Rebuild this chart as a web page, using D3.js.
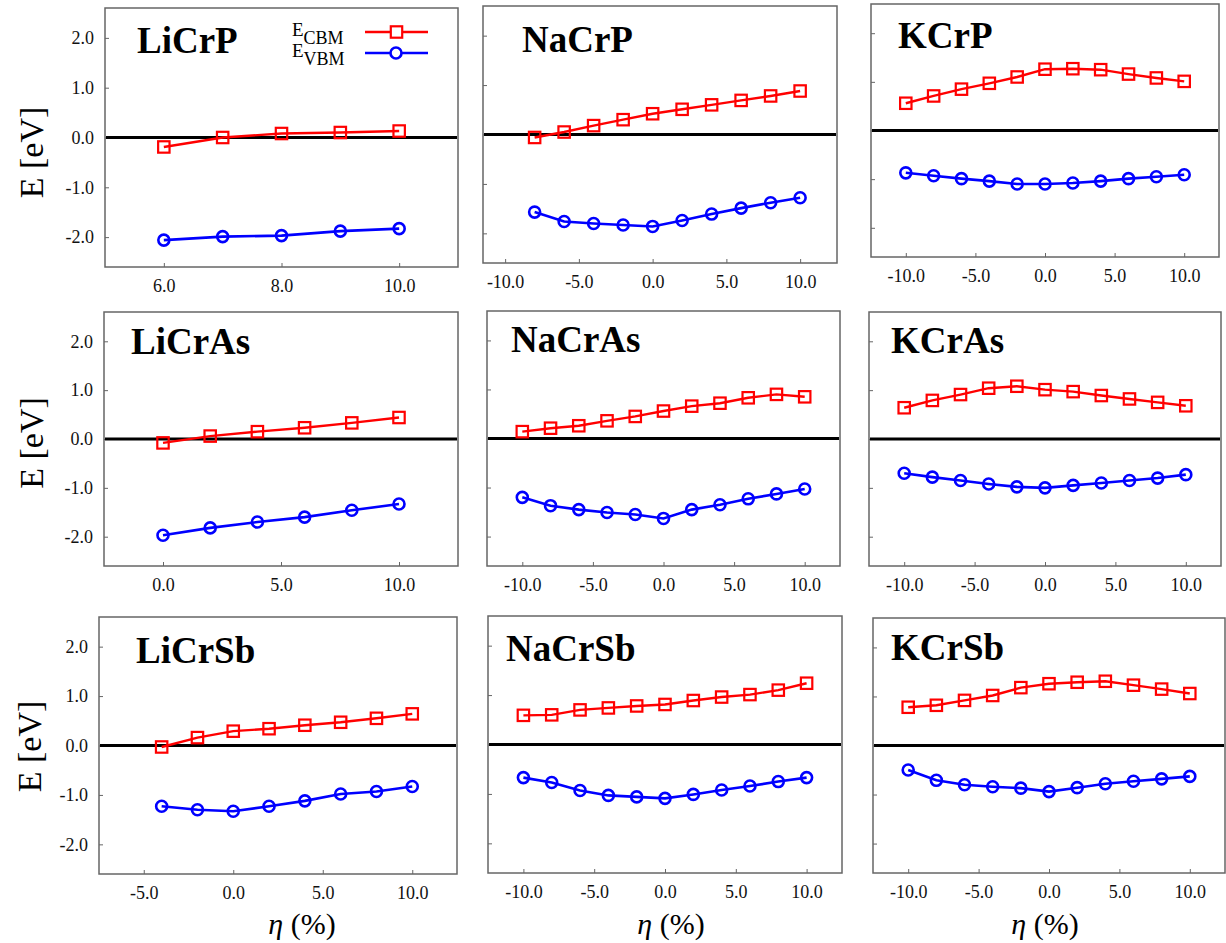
<!DOCTYPE html>
<html>
<head>
<meta charset="utf-8">
<script src="https://cdn.jsdelivr.net/npm/d3@7"></script>
<style>
  body { margin: 0; background: #fff; }
  svg { display: block; }
</style>
</head>
<body>
<div id="chart"></div>
<script>
// strain eta (%) and band edges E (eV)
const etaLiCrP = [6, 7, 8, 9, 10]
const cbmLiCrP = [-0.19, 0.0, 0.08, 0.10, 0.13]
const vbmLiCrP = [-2.06, -1.99, -1.97, -1.88, -1.83]

const etaNaCrP = [-8, -6, -4, -2, 0, 2, 4, 6, 8, 10]
const cbmNaCrP = [-0.06, 0.05, 0.18, 0.30, 0.42, 0.51, 0.60, 0.69, 0.78, 0.88]
const vbmNaCrP = [-1.57, -1.76, -1.80, -1.83, -1.86, -1.74, -1.61, -1.49, -1.38, -1.28]

const etaKCrP = [-10, -8, -6, -4, -2, 0, 2, 4, 6, 8, 10]
const cbmKCrP = [0.56, 0.71, 0.85, 0.97, 1.10, 1.26, 1.27, 1.25, 1.16, 1.08, 1.01]
const vbmKCrP = [-0.87, -0.93, -0.99, -1.04, -1.10, -1.10, -1.08, -1.04, -0.99, -0.95, -0.91]

const etaLiCrAs = [0, 2, 4, 6, 8, 10]
const cbmLiCrAs = [-0.08, 0.06, 0.15, 0.23, 0.33, 0.44]
const vbmLiCrAs = [-1.97, -1.82, -1.70, -1.60, -1.46, -1.33]

const etaNaCrAs = [-10, -8, -6, -4, -2, 0, 2, 4, 6, 8, 10]
const cbmNaCrAs = [0.14, 0.21, 0.26, 0.36, 0.45, 0.56, 0.66, 0.72, 0.83, 0.90, 0.85]
const vbmNaCrAs = [-1.20, -1.37, -1.45, -1.51, -1.55, -1.63, -1.45, -1.35, -1.23, -1.13, -1.03]

const etaKCrAs = [-10, -8, -6, -4, -2, 0, 2, 4, 6, 8, 10]
const cbmKCrAs = [0.64, 0.79, 0.91, 1.04, 1.08, 1.01, 0.97, 0.89, 0.82, 0.75, 0.68]
const vbmKCrAs = [-0.70, -0.78, -0.85, -0.92, -0.98, -1.00, -0.95, -0.90, -0.85, -0.80, -0.73]

const etaLiCrSb = [-4, -2, 0, 2, 4, 6, 8, 10]
const cbmLiCrSb = [-0.03, 0.16, 0.29, 0.34, 0.41, 0.47, 0.55, 0.64]
const vbmLiCrSb = [-1.23, -1.30, -1.33, -1.23, -1.12, -0.98, -0.93, -0.83]

const etaNaCrSb = [-10, -8, -6, -4, -2, 0, 2, 4, 6, 8, 10]
const cbmNaCrSb = [0.59, 0.60, 0.70, 0.74, 0.78, 0.81, 0.89, 0.96, 1.01, 1.10, 1.24]
const vbmNaCrSb = [-0.67, -0.77, -0.93, -1.03, -1.06, -1.09, -1.01, -0.92, -0.84, -0.75, -0.67]

const etaKCrSb = [-10, -8, -6, -4, -2, 0, 2, 4, 6, 8, 10]
const cbmKCrSb = [0.78, 0.82, 0.92, 1.02, 1.18, 1.26, 1.29, 1.31, 1.23, 1.15, 1.06]
const vbmKCrSb = [-0.50, -0.71, -0.80, -0.84, -0.87, -0.94, -0.86, -0.78, -0.73, -0.68, -0.63]

// axis ticks
const yTicks = [-2, -1, 0, 1, 2]
const xTicksLiCrP = [6, 8, 10]
const xTicksLiCrAs = [0, 5, 10]
const xTicksLiCrSb = [-5, 0, 5, 10]
const xTicksFull = [-10, -5, 0, 5, 10]

const W = 1226, H = 943
const serif = '"Liberation Serif", "Times New Roman", "DejaVu Serif", serif'
const red = '#ff0000', blue = '#0000ff'
const fmt = d => d.toFixed(1)

// panel layout: box = [left, top, right, bottom], title offset from top-left
const panels = [
  {name: 'LiCrP',  eta: etaLiCrP,  cbm: cbmLiCrP,  vbm: vbmLiCrP,  xd: [5, 11],       xt: xTicksLiCrP,  box: [105, 8, 458, 267],   tp: [32, 45]},
  {name: 'NaCrP',  eta: etaNaCrP,  cbm: cbmNaCrP,  vbm: vbmNaCrP,  xd: [-11.5, 12.5], xt: xTicksFull,   box: [483, 6, 837, 263],   tp: [39, 46]},
  {name: 'KCrP',   eta: etaKCrP,   cbm: cbmKCrP,   vbm: vbmKCrP,   xd: [-12.5, 12.5], xt: xTicksFull,   box: [871, 4, 1219, 257],  tp: [27, 44]},
  {name: 'LiCrAs', eta: etaLiCrAs, cbm: cbmLiCrAs, vbm: vbmLiCrAs, xd: [-2.5, 12.5],  xt: xTicksLiCrAs, box: [104, 312, 458, 566], tp: [27, 42]},
  {name: 'NaCrAs', eta: etaNaCrAs, cbm: cbmNaCrAs, vbm: vbmNaCrAs, xd: [-12.5, 12.5], xt: xTicksFull,   box: [487, 311, 840, 566], tp: [24, 41]},
  {name: 'KCrAs',  eta: etaKCrAs,  cbm: cbmKCrAs,  vbm: vbmKCrAs,  xd: [-12.5, 12.5], xt: xTicksFull,   box: [869, 312, 1221, 566], tp: [22, 41]},
  {name: 'LiCrSb', eta: etaLiCrSb, cbm: cbmLiCrSb, vbm: vbmLiCrSb, xd: [-7.5, 12.5],  xt: xTicksLiCrSb, box: [99, 617, 457, 874],  tp: [37, 46]},
  {name: 'NaCrSb', eta: etaNaCrSb, cbm: cbmNaCrSb, vbm: vbmNaCrSb, xd: [-12.5, 12.5], xt: xTicksFull,   box: [488, 616, 842, 873], tp: [18, 45]},
  {name: 'KCrSb',  eta: etaKCrSb,  cbm: cbmKCrSb,  vbm: vbmKCrSb,  xd: [-12.5, 12.5], xt: xTicksFull,   box: [873, 618, 1225, 873], tp: [18, 42]}
]

const svg = d3.select('#chart').append('svg')
  .attr('width', W)
  .attr('height', H)

svg.append('rect').attr('width', W).attr('height', H).attr('fill', '#fff')

function styleAxis(a) {
  a.select('.domain').remove()
  a.attr('font-family', serif).attr('font-size', 18)
  a.selectAll('.tick text').attr('fill', '#111')
}

function drawSquares(g, pts, x, y, color) {
  g.selectAll(null)
    .data(pts)
    .enter()
    .append('rect')
    .attr('x', d => x(d[0]) - 5.7)
    .attr('y', d => y(d[1]) - 5.7)
    .attr('width', 11.4)
    .attr('height', 11.4)
    .attr('fill', 'none')
    .attr('stroke', color)
    .attr('stroke-width', 2.2)
}

function drawCircles(g, pts, x, y, color) {
  g.selectAll(null)
    .data(pts)
    .enter()
    .append('circle')
    .attr('cx', d => x(d[0]))
    .attr('cy', d => y(d[1]))
    .attr('r', 5.5)
    .attr('fill', 'none')
    .attr('stroke', color)
    .attr('stroke-width', 2.6)
}

panels.forEach(function (p, i) {
  let [x0, y0, x1, y1] = p.box
  let x = d3.scaleLinear().domain(p.xd).range([x0, x1])
  let y = d3.scaleLinear().domain([-2.6, 2.6]).range([y1, y0])
  let g = svg.append('g')

  // axes with inward ticks, y labels only on the left column
  g.append('g')
    .attr('transform', 'translate(0,' + y1 + ')')
    .attr('color', '#666')
    .call(d3.axisBottom(x).tickValues(p.xt).tickSize(-4).tickPadding(12).tickFormat(fmt))
    .call(styleAxis)

  g.append('g')
    .attr('transform', 'translate(' + x0 + ',0)')
    .attr('color', '#666')
    .call(d3.axisLeft(y).tickValues(yTicks).tickSize(-4).tickPadding(11)
      .tickFormat(i % 3 === 0 ? fmt : () => ''))
    .call(styleAxis)

  g.append('rect')
    .attr('x', x0).attr('y', y0)
    .attr('width', x1 - x0).attr('height', y1 - y0)
    .attr('fill', 'none')
    .attr('stroke', '#666')
    .attr('stroke-width', 1.5)

  // Fermi level
  g.append('line')
    .attr('x1', x0 + 1).attr('x2', x1 - 1)
    .attr('y1', y(0)).attr('y2', y(0))
    .attr('stroke', '#000')
    .attr('stroke-width', 3)

  let line = d3.line().x(d => x(d[0])).y(d => y(d[1]))
  let cbmPts = d3.zip(p.eta, p.cbm)
  let vbmPts = d3.zip(p.eta, p.vbm)

  g.append('path').attr('d', line(cbmPts)).attr('fill', 'none').attr('stroke', red).attr('stroke-width', 2.4)
  g.append('path').attr('d', line(vbmPts)).attr('fill', 'none').attr('stroke', blue).attr('stroke-width', 2.6)
  drawSquares(g, cbmPts, x, y, red)
  drawCircles(g, vbmPts, x, y, blue)

  g.append('text')
    .attr('x', x0 + p.tp[0])
    .attr('y', y0 + p.tp[1])
    .attr('font-family', serif)
    .attr('font-weight', 'bold')
    .attr('font-size', 37)
    .attr('fill', '#000')
    .text(p.name)

  // y label on the left column
  if (i % 3 === 0) {
    let row = i / 3
    let cy = (y0 + y1) / 2 + [15, 4, 1][row]
    let bx = [43, 43, 41][row]
    g.append('text')
      .attr('transform', 'translate(' + bx + ',' + cy + ') rotate(-90)')
      .attr('text-anchor', 'middle')
      .attr('font-family', serif)
      .attr('font-size', 34)
      .attr('fill', '#000')
      .text('E [eV]')
  }

  // x label on the bottom row
  if (i >= 6) {
    let col = i - 6
    let t = g.append('text')
      .attr('x', (x0 + x1) / 2 + [24, 6, -4][col])
      .attr('y', 934)
      .attr('text-anchor', 'middle')
      .attr('font-family', serif)
      .attr('font-size', 30)
      .attr('fill', '#000')
    t.append('tspan').attr('font-style', 'italic').text('η')
    t.append('tspan').text(' (%)')
  }

  // legend in the first panel
  if (i === 0) {
    let items = [
      {sub: 'CBM', color: red, y: 32, marker: 'square'},
      {sub: 'VBM', color: blue, y: 53, marker: 'circle'}
    ]
    items.forEach(function (it) {
      let t = g.append('text')
        .attr('x', 292)
        .attr('y', it.y + 4)
        .attr('font-family', serif)
        .attr('font-size', 19)
        .attr('fill', '#000')
      t.append('tspan').text('E')
      t.append('tspan').attr('dy', 8).attr('font-size', 18).text(it.sub)

      g.append('line')
        .attr('x1', 365).attr('x2', 428)
        .attr('y1', it.y).attr('y2', it.y)
        .attr('stroke', it.color)
        .attr('stroke-width', 2.6)
      if (it.marker === 'square') {
        g.append('rect')
          .attr('x', 396.5 - 5.7).attr('y', it.y - 5.7)
          .attr('width', 11.4).attr('height', 11.4)
          .attr('fill', '#fff')
          .attr('stroke', it.color)
          .attr('stroke-width', 2.2)
      } else {
        g.append('circle')
          .attr('cx', 396).attr('cy', it.y)
          .attr('r', 5.5)
          .attr('fill', '#fff')
          .attr('stroke', it.color)
          .attr('stroke-width', 2.6)
      }
    })
  }
})
</script>
</body>
</html>
